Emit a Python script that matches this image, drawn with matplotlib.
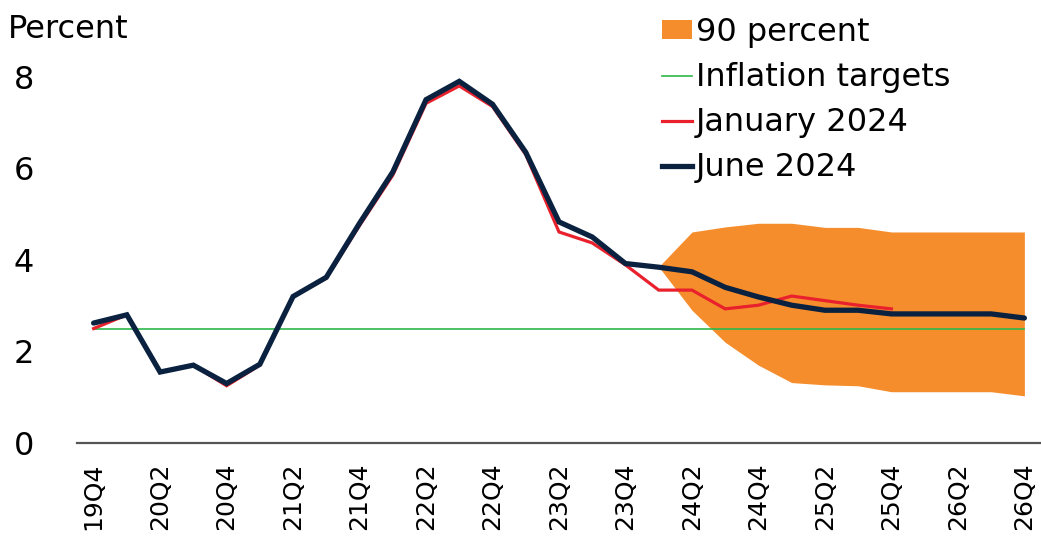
#!/usr/bin/env python3
# -*- coding: utf-8 -*-

import matplotlib
matplotlib.use("Agg")
import matplotlib.pyplot as plt
from matplotlib.patches import Patch
from matplotlib.lines import Line2D

# quarters 19Q4 .. 26Q4
QUARTERS = [f"{y}Q{q}" for y in range(19, 27) for q in range(1, 5)][3:]

JUNE_2024 = [2.62, 2.80, 1.55, 1.70, 1.30, 1.72, 3.20, 3.62, 4.80, 5.92,
             7.50, 7.90, 7.40, 6.35, 4.83, 4.50, 3.92, 3.84, 3.74, 3.40,
             3.19, 3.01, 2.90, 2.90, 2.82, 2.82, 2.82, 2.82, 2.73]
JAN_2024 = [2.50, 2.80, 1.55, 1.70, 1.25, 1.70, 3.20, 3.60, 4.75, 5.85,
            7.42, 7.80, 7.35, 6.30, 4.61, 4.37, 3.89, 3.34, 3.34, 2.93,
            3.01, 3.21, 3.11, 3.01, 2.93]
TARGET = 2.5

# 90 percent band starts at 24Q1
BAND_START = 17
BAND_UPPER = [3.85, 4.61, 4.72, 4.80, 4.80, 4.71, 4.71, 4.61, 4.61, 4.61, 4.61, 4.61]
BAND_LOWER = [3.85, 2.90, 2.20, 1.70, 1.32, 1.27, 1.25, 1.12, 1.12, 1.12, 1.12, 1.03]

ORANGE = "#F58D2C"
NAVY = "#0A2240"
RED = "#E8212D"
GREEN = "#2DB84B"

plt.rcParams["font.family"] = ["DejaVu Sans"]

fig = plt.figure(figsize=(10.41, 5.38), dpi=100)
ax = fig.add_axes([77 / 1041, 95 / 538, 1 - 77 / 1041, 412 / 538])

x = list(range(len(QUARTERS)))
band_x = x[BAND_START:BAND_START + len(BAND_UPPER)]

ax.fill_between(band_x, BAND_LOWER, BAND_UPPER, color=ORANGE, lw=0, zorder=1)
ax.plot([x[0], x[-1]], [TARGET, TARGET], color=GREEN, lw=1.2, zorder=2)
ax.plot(x[:len(JAN_2024)], JAN_2024, color=RED, lw=2.3, zorder=3,
        solid_joinstyle="miter")
ax.plot(x, JUNE_2024, color=NAVY, lw=3.8, zorder=4, solid_joinstyle="miter",
        solid_capstyle="round")

ax.set_xlim(-0.5, 28.5)
ax.set_ylim(0, 9)
ax.set_yticks([0, 2, 4, 6, 8])
ax.set_xticks(x[::2])
ax.set_xticklabels(QUARTERS[::2], rotation=90, fontsize=18)
ax.tick_params(axis="y", length=0, pad=31, labelsize=23)
ax.tick_params(axis="x", length=0, pad=14)

for side in ["top", "right", "left"]:
    ax.spines[side].set_visible(False)
ax.spines["bottom"].set_color("#555555")
ax.spines["bottom"].set_linewidth(1.6)

fig.text(8 / 1041, 1 - 38 / 538, "Percent", fontsize=23, va="baseline")

handles = [
    Patch(facecolor=ORANGE, edgecolor="none"),
    Line2D([], [], color=GREEN, lw=1.2),
    Line2D([], [], color=RED, lw=2.3),
    Line2D([], [], color=NAVY, lw=3.8),
]
labels = ["90 percent", "Inflation targets", "January 2024", "June 2024"]
fig.legend(handles, labels, loc="upper left", bbox_to_anchor=(662 / 1041, 1 - 17 / 538),
           frameon=False, fontsize=23, handlelength=0.95, handleheight=0.55,
           handletextpad=0.12, labelspacing=0.44, borderpad=0, borderaxespad=0)

plt.savefig("out.png", dpi=100)
plt.close()
